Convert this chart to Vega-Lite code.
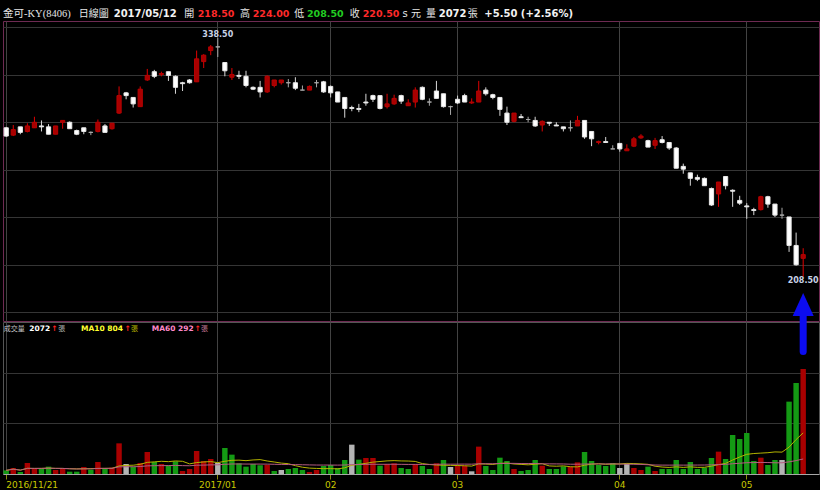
{
"$schema": "https://vega.github.io/schema/vega-lite/v6.json",
"background": "#000000",
"padding": {"left": 2, "right": 2, "top": 0, "bottom": 0},
"bounds": "flush",
"spacing": 1,
"config": {"view": {"stroke": null}},
"datasets": {
"ohlc": [
{"date":"2016-11-21","open":289.5,"high":290,"low":284.5,"close":285,"volume":72},
{"date":"2016-11-22","open":285.5,"high":291,"low":285,"close":288.5,"volume":118},
{"date":"2016-11-23","open":290,"high":290,"low":286,"close":287,"volume":39},
{"date":"2016-11-24","open":287.5,"high":292,"low":287,"close":290.5,"volume":217},
{"date":"2016-11-25","open":289.5,"high":295.5,"low":289.5,"close":292.5,"volume":105},
{"date":"2016-11-28","open":290.5,"high":293.5,"low":287.5,"close":290,"volume":112},
{"date":"2016-11-29","open":290,"high":291.5,"low":286,"close":286,"volume":145},
{"date":"2016-11-30","open":286,"high":290.5,"low":286,"close":290.5,"volume":79},
{"date":"2016-12-01","open":292.5,"high":293.5,"low":289,"close":293.5,"volume":105},
{"date":"2016-12-02","open":292.5,"high":293,"low":289,"close":289,"volume":46},
{"date":"2016-12-05","open":288,"high":288.5,"low":285.5,"close":286,"volume":46},
{"date":"2016-12-06","open":289.5,"high":289.5,"low":286,"close":287.5,"volume":138},
{"date":"2016-12-07","open":287,"high":287.5,"low":285.5,"close":287,"volume":86},
{"date":"2016-12-08","open":287.5,"high":294,"low":287,"close":292.5,"volume":237},
{"date":"2016-12-09","open":290.5,"high":291.5,"low":287,"close":287,"volume":118},
{"date":"2016-12-12","open":289,"high":292,"low":288.5,"close":292,"volume":125},
{"date":"2016-12-13","open":297.5,"high":312,"low":297,"close":307,"volume":605},
{"date":"2016-12-14","open":308.5,"high":309,"low":305,"close":307,"volume":197},
{"date":"2016-12-15","open":306,"high":306,"low":300.5,"close":302.5,"volume":138},
{"date":"2016-12-16","open":301,"high":312,"low":301,"close":310.5,"volume":217},
{"date":"2016-12-19","open":315.5,"high":321.5,"low":315,"close":318,"volume":434},
{"date":"2016-12-20","open":320,"high":321,"low":316.5,"close":317.5,"volume":237},
{"date":"2016-12-21","open":318.5,"high":320,"low":317.5,"close":319,"volume":197},
{"date":"2016-12-22","open":320,"high":320,"low":315,"close":318,"volume":171},
{"date":"2016-12-23","open":317.5,"high":318,"low":308,"close":311.5,"volume":250},
{"date":"2016-12-26","open":314,"high":314.5,"low":309.5,"close":313.5,"volume":59},
{"date":"2016-12-27","open":315.5,"high":316,"low":313.5,"close":314,"volume":99},
{"date":"2016-12-28","open":314.5,"high":331.5,"low":314.5,"close":327,"volume":454},
{"date":"2016-12-29","open":325.5,"high":329.5,"low":322,"close":329,"volume":257},
{"date":"2016-12-30","open":331.5,"high":334.5,"low":329,"close":333.5,"volume":296},
{"date":"2017-01-03","open":333.5,"high":338.5,"low":328,"close":333.5,"volume":217},
{"date":"2017-01-04","open":325,"high":325,"low":317.5,"close":320.5,"volume":513},
{"date":"2017-01-05","open":317,"high":322,"low":315.5,"close":318.5,"volume":382},
{"date":"2017-01-06","open":318,"high":320.5,"low":316,"close":317.5,"volume":211},
{"date":"2017-01-09","open":317.5,"high":320.5,"low":311.5,"close":312.5,"volume":145},
{"date":"2017-01-10","open":311.5,"high":312,"low":310,"close":310.5,"volume":197},
{"date":"2017-01-11","open":311.5,"high":315,"low":306,"close":309,"volume":171},
{"date":"2017-01-12","open":309,"high":318,"low":308.5,"close":317.5,"volume":178},
{"date":"2017-01-13","open":312.5,"high":315.5,"low":311.5,"close":315.5,"volume":59},
{"date":"2017-01-16","open":314,"high":315.5,"low":313,"close":315.5,"volume":79},
{"date":"2017-01-17","open":314,"high":316,"low":311.5,"close":314,"volume":99},
{"date":"2017-01-18","open":314,"high":317,"low":310,"close":311,"volume":118},
{"date":"2017-01-19","open":310,"high":312.5,"low":310,"close":310,"volume":79},
{"date":"2017-01-20","open":310,"high":312.5,"low":310,"close":312,"volume":39},
{"date":"2017-01-23","open":314,"high":315.5,"low":311.5,"close":314,"volume":79},
{"date":"2017-01-24","open":314.5,"high":315,"low":308.5,"close":309,"volume":158},
{"date":"2017-02-02","open":312,"high":312.5,"low":306,"close":308.5,"volume":178},
{"date":"2017-02-03","open":309,"high":309,"low":303.5,"close":303.5,"volume":118},
{"date":"2017-02-06","open":306,"high":306,"low":295,"close":300,"volume":276},
{"date":"2017-02-07","open":300.5,"high":301.5,"low":298.5,"close":300,"volume":579},
{"date":"2017-02-08","open":300,"high":302.5,"low":298,"close":299.5,"volume":283},
{"date":"2017-02-09","open":303.5,"high":308,"low":301.5,"close":303,"volume":316},
{"date":"2017-02-10","open":307,"high":307.5,"low":303.5,"close":305,"volume":316},
{"date":"2017-02-13","open":307,"high":307,"low":299.5,"close":300,"volume":164},
{"date":"2017-02-14","open":301,"high":308,"low":300,"close":302.5,"volume":197},
{"date":"2017-02-15","open":302.5,"high":307.5,"low":302,"close":305.5,"volume":211},
{"date":"2017-02-16","open":307,"high":307.5,"low":302.5,"close":304,"volume":118},
{"date":"2017-02-17","open":301.5,"high":305,"low":301.5,"close":303,"volume":99},
{"date":"2017-02-18","open":303.5,"high":311.5,"low":300.5,"close":310,"volume":197},
{"date":"2017-02-20","open":311.5,"high":312,"low":304.5,"close":305,"volume":158},
{"date":"2017-02-21","open":303.5,"high":305.5,"low":301.5,"close":303.5,"volume":99},
{"date":"2017-02-22","open":309.5,"high":315,"low":305.5,"close":305.5,"volume":211},
{"date":"2017-02-23","open":308,"high":308,"low":300.5,"close":301,"volume":276},
{"date":"2017-02-24","open":301,"high":301.5,"low":296.5,"close":301,"volume":138},
{"date":"2017-03-01","open":305,"high":307,"low":302.5,"close":303,"volume":164},
{"date":"2017-03-02","open":307,"high":308,"low":303.5,"close":303.5,"volume":164},
{"date":"2017-03-03","open":303,"high":305.5,"low":302.5,"close":303.5,"volume":53},
{"date":"2017-03-06","open":303.5,"high":315,"low":303.5,"close":309.5,"volume":540},
{"date":"2017-03-07","open":310,"high":311.5,"low":307,"close":308,"volume":158},
{"date":"2017-03-08","open":307.5,"high":308,"low":305,"close":306,"volume":79},
{"date":"2017-03-09","open":306,"high":306,"low":296,"close":299.5,"volume":322},
{"date":"2017-03-10","open":297.5,"high":301,"low":291,"close":292.5,"volume":257},
{"date":"2017-03-13","open":293,"high":297.5,"low":292.5,"close":297.5,"volume":99},
{"date":"2017-03-14","open":295.5,"high":297,"low":295,"close":295,"volume":59},
{"date":"2017-03-15","open":294,"high":295.5,"low":292.5,"close":294,"volume":79},
{"date":"2017-03-16","open":293.5,"high":295.5,"low":290,"close":290.5,"volume":276},
{"date":"2017-03-17","open":291,"high":293.5,"low":287.5,"close":293,"volume":164},
{"date":"2017-03-20","open":292.5,"high":292.5,"low":290.5,"close":292,"volume":99},
{"date":"2017-03-21","open":291,"high":292.5,"low":290.5,"close":290.5,"volume":99},
{"date":"2017-03-22","open":290,"high":290,"low":287.5,"close":289,"volume":151},
{"date":"2017-03-23","open":289.5,"high":293.5,"low":287.5,"close":289.5,"volume":145},
{"date":"2017-03-24","open":290.5,"high":296,"low":290.5,"close":293.5,"volume":230},
{"date":"2017-03-27","open":293.5,"high":293.5,"low":283.5,"close":284.5,"volume":434},
{"date":"2017-03-28","open":287.5,"high":287.5,"low":279.5,"close":283.5,"volume":257},
{"date":"2017-03-29","open":281.5,"high":282.5,"low":280.5,"close":282,"volume":178},
{"date":"2017-03-30","open":282,"high":284.5,"low":281.5,"close":281.5,"volume":158},
{"date":"2017-03-31","open":278,"high":280,"low":278,"close":278,"volume":217},
{"date":"2017-04-05","open":281,"high":281,"low":276.5,"close":278,"volume":118},
{"date":"2017-04-06","open":277,"high":280.5,"low":277,"close":278,"volume":204},
{"date":"2017-04-07","open":279.5,"high":284.5,"low":279,"close":283.5,"volume":118},
{"date":"2017-04-10","open":284,"high":286,"low":283.5,"close":285,"volume":79},
{"date":"2017-04-11","open":282.5,"high":283,"low":279,"close":279,"volume":145},
{"date":"2017-04-12","open":280,"high":284,"low":278,"close":282.5,"volume":59},
{"date":"2017-04-13","open":283,"high":285,"low":281,"close":281.5,"volume":99},
{"date":"2017-04-14","open":281.5,"high":281.5,"low":277.5,"close":278.5,"volume":99},
{"date":"2017-04-17","open":278.5,"high":279,"low":267.5,"close":267.5,"volume":276},
{"date":"2017-04-18","open":268.5,"high":270,"low":264.5,"close":267,"volume":99},
{"date":"2017-04-19","open":265,"high":265,"low":258,"close":262,"volume":237},
{"date":"2017-04-20","open":262.5,"high":264,"low":260.5,"close":261.5,"volume":99},
{"date":"2017-04-21","open":262,"high":262.5,"low":258,"close":258,"volume":125},
{"date":"2017-04-24","open":256.5,"high":257,"low":247,"close":247.5,"volume":316},
{"date":"2017-04-25","open":253.5,"high":260,"low":246.5,"close":260,"volume":441},
{"date":"2017-04-26","open":263,"high":263,"low":256,"close":258,"volume":296},
{"date":"2017-04-27","open":255.5,"high":256,"low":246.5,"close":255,"volume":770},
{"date":"2017-04-28","open":250,"high":252.5,"low":247.5,"close":248.5,"volume":691},
{"date":"2017-05-02","open":247,"high":248.5,"low":240,"close":246.5,"volume":809},
{"date":"2017-05-03","open":245,"high":246,"low":242,"close":244.5,"volume":257},
{"date":"2017-05-04","open":245,"high":252.5,"low":244.5,"close":252,"volume":322},
{"date":"2017-05-05","open":252,"high":252.5,"low":246,"close":248,"volume":178},
{"date":"2017-05-08","open":248,"high":248,"low":241,"close":242,"volume":276},
{"date":"2017-05-09","open":242,"high":246,"low":240,"close":242,"volume":276},
{"date":"2017-05-10","open":241,"high":241,"low":222,"close":225.5,"volume":1428},
{"date":"2017-05-11","open":225.5,"high":232.5,"low":214.5,"close":215,"volume":1796},
{"date":"2017-05-12","open":218.5,"high":224,"low":208.5,"close":220.5,"volume":2072}
],
"header": [
{"item":"name","text":"金可-KY(8406)"},
{"item":"kind","text":"日線圖"},
{"item":"date","text":"2017/05/12"},
{"item":"openLabel","text":"開"},
{"item":"open","text":"218.50"},
{"item":"highLabel","text":"高"},
{"item":"high","text":"224.00"},
{"item":"lowLabel","text":"低"},
{"item":"low","text":"208.50"},
{"item":"closeLabel","text":"收"},
{"item":"close","text":"220.50"},
{"item":"unit","text":"s 元"},
{"item":"volLabel","text":"量"},
{"item":"vol","text":"2072"},
{"item":"volUnit","text":"張"},
{"item":"change","text":"+5.50 (+2.56%)"}
],
"status": [
{"item":"title","text":"成交量"},
{"item":"vol","text":"2072"},
{"item":"arrow","text":"↑"},
{"item":"unit","text":"張"},
{"item":"ma10","text":"MA10 804"},
{"item":"ma60","text":"MA60 292"}
]
},
"vconcat": [
{
"width": 816, "height": 20,
"data": {"name": "header"},
"encoding": {
"y": {"datum": 0, "type": "quantitative", "scale": {"domain": [0, 1], "nice": false}, "axis": null},
"text": {"field": "text"}
},
"layer": [
{"transform": [{"filter": "datum.item == 'name'"}], "mark": {"type": "text", "align": "left", "baseline": "alphabetic", "dy": -2.7, "font": "Liberation Serif, Noto Sans CJK TC", "fontSize": 10.5, "color": "#e6e6e6"},
 "encoding": {"x": {"datum": 0, "type": "quantitative", "scale": {"domain": [0, 816], "nice": false, "zero": false}, "axis": null}}},
{"transform": [{"filter": "datum.item == 'kind'"}], "mark": {"type": "text", "align": "left", "baseline": "alphabetic", "dy": -2.7, "font": "Noto Sans CJK TC", "fontSize": 10, "color": "#e6e6e6"},
 "encoding": {"x": {"datum": 75.7}}},
{"transform": [{"filter": "datum.item == 'date'"}], "mark": {"type": "text", "align": "left", "baseline": "alphabetic", "dy": -2.7, "font": "DejaVu Sans", "fontSize": 10, "fontWeight": "bold", "color": "#f2f2f2"},
 "encoding": {"x": {"datum": 110.7}}},
{"transform": [{"filter": "datum.item == 'openLabel'"}], "mark": {"type": "text", "align": "left", "baseline": "alphabetic", "dy": -2.7, "font": "Noto Sans CJK TC", "fontSize": 10, "color": "#e6e6e6"},
 "encoding": {"x": {"datum": 181.3}}},
{"transform": [{"filter": "datum.item == 'open'"}], "mark": {"type": "text", "align": "left", "baseline": "alphabetic", "dy": -2.7, "font": "DejaVu Sans", "fontSize": 9.5, "fontWeight": "bold", "color": "#ff2a2a"},
 "encoding": {"x": {"datum": 194.7}}},
{"transform": [{"filter": "datum.item == 'highLabel'"}], "mark": {"type": "text", "align": "left", "baseline": "alphabetic", "dy": -2.7, "font": "Noto Sans CJK TC", "fontSize": 10, "color": "#e6e6e6"},
 "encoding": {"x": {"datum": 237}}},
{"transform": [{"filter": "datum.item == 'high'"}], "mark": {"type": "text", "align": "left", "baseline": "alphabetic", "dy": -2.7, "font": "DejaVu Sans", "fontSize": 9.5, "fontWeight": "bold", "color": "#ff2a2a"},
 "encoding": {"x": {"datum": 249.7}}},
{"transform": [{"filter": "datum.item == 'lowLabel'"}], "mark": {"type": "text", "align": "left", "baseline": "alphabetic", "dy": -2.7, "font": "Noto Sans CJK TC", "fontSize": 10, "color": "#e6e6e6"},
 "encoding": {"x": {"datum": 291.3}}},
{"transform": [{"filter": "datum.item == 'low'"}], "mark": {"type": "text", "align": "left", "baseline": "alphabetic", "dy": -2.7, "font": "DejaVu Sans", "fontSize": 9.5, "fontWeight": "bold", "color": "#22cc22"},
 "encoding": {"x": {"datum": 304}}},
{"transform": [{"filter": "datum.item == 'closeLabel'"}], "mark": {"type": "text", "align": "left", "baseline": "alphabetic", "dy": -2.7, "font": "Noto Sans CJK TC", "fontSize": 10, "color": "#e6e6e6"},
 "encoding": {"x": {"datum": 346.7}}},
{"transform": [{"filter": "datum.item == 'close'"}], "mark": {"type": "text", "align": "left", "baseline": "alphabetic", "dy": -2.7, "font": "DejaVu Sans", "fontSize": 9.5, "fontWeight": "bold", "color": "#ff2a2a"},
 "encoding": {"x": {"datum": 359.7}}},
{"transform": [{"filter": "datum.item == 'unit'"}], "mark": {"type": "text", "align": "left", "baseline": "alphabetic", "dy": -2.7, "font": "DejaVu Sans, Noto Sans CJK TC", "fontSize": 10, "color": "#e6e6e6"},
 "encoding": {"x": {"datum": 399.5}}},
{"transform": [{"filter": "datum.item == 'volLabel'"}], "mark": {"type": "text", "align": "left", "baseline": "alphabetic", "dy": -2.7, "font": "Noto Sans CJK TC", "fontSize": 10, "color": "#e6e6e6"},
 "encoding": {"x": {"datum": 423}}},
{"transform": [{"filter": "datum.item == 'vol'"}], "mark": {"type": "text", "align": "left", "baseline": "alphabetic", "dy": -2.7, "font": "DejaVu Sans", "fontSize": 10, "fontWeight": "bold", "color": "#f2f2f2"},
 "encoding": {"x": {"datum": 435.7}}},
{"transform": [{"filter": "datum.item == 'volUnit'"}], "mark": {"type": "text", "align": "left", "baseline": "alphabetic", "dy": -2.7, "font": "Noto Sans CJK TC", "fontSize": 10, "color": "#e6e6e6"},
 "encoding": {"x": {"datum": 464.7}}},
{"transform": [{"filter": "datum.item == 'change'"}], "mark": {"type": "text", "align": "left", "baseline": "alphabetic", "dy": -2.7, "font": "DejaVu Sans", "fontSize": 10, "fontWeight": "bold", "color": "#f2f2f2"},
 "encoding": {"x": {"datum": 481.3}}}
]
},
{
"width": 816, "height": 300,
"view": {"stroke": "#6e2a52"},
"data": {"name": "ohlc"},
"layer": [
{
"mark": {"type": "rule", "strokeWidth": 1},
"encoding": {
"x": {"field": "date", "type": "ordinal", "scale": {"type": "band", "paddingInner": 0.3, "paddingOuter": 1.12, "align": 0.053},
"axis": {"values": ["2016-11-21","2017-01-03","2017-02-02","2017-03-01","2017-04-05","2017-05-02"], "bandPosition": 0.5, "grid": true, "gridColor": "#424242", "labels": false, "ticks": false, "domain": false, "title": null}},
"y": {"field": "low", "type": "quantitative", "scale": {"domain": [184.41, 347.58], "zero": false, "nice": false},
"axis": {"values": [344.16,337.70,331.24,324.78,318.32,311.87,305.41,298.95,292.49,286.03,279.57,273.11,266.65,260.19,253.73,247.28,240.82,234.36,227.90,221.44,214.98,208.52,202.06,195.60,189.14], "grid": true, "gridColor": "#353535", "labels": false, "ticks": false, "domain": false, "title": null}},
"y2": {"field": "high"},
"color": {"condition": [{"test": "datum.close > datum.open", "value": "#e00000"}, {"test": "datum.close == datum.open", "value": "#a8a8a8"}], "value": "#d8d8d8"}
}
},
{
"mark": {"type": "bar", "width": {"band": 0.85}, "strokeWidth": 1},
"encoding": {
"x": {"field": "date", "type": "ordinal"},
"y": {"field": "open", "type": "quantitative"},
"y2": {"field": "close"},
"fill": {"condition": [{"test": "datum.close > datum.open", "value": "#a80000"}, {"test": "datum.close == datum.open", "value": "#a8a8a8"}], "value": "#ffffff"},
"stroke": {"condition": [{"test": "datum.close > datum.open", "value": "#b80000"}, {"test": "datum.close == datum.open", "value": "#a8a8a8"}], "value": "#e6e6e6"}
}
},
{
"transform": [{"joinaggregate": [{"op": "max", "field": "high", "as": "hmax"}]}, {"filter": "datum.high == datum.hmax"}],
"mark": {"type": "text", "align": "center", "baseline": "alphabetic", "dy": -1, "font": "DejaVu Sans", "fontSize": 8, "fontWeight": "bold", "color": "#c8d2e6"},
"encoding": {
"x": {"field": "date", "type": "ordinal"},
"y": {"field": "high", "type": "quantitative"},
"text": {"field": "high", "type": "quantitative", "format": ".2f"}
}
},
{
"transform": [{"joinaggregate": [{"op": "min", "field": "low", "as": "lmin"}]}, {"filter": "datum.low == datum.lmin"}],
"mark": {"type": "text", "align": "center", "baseline": "alphabetic", "dy": 6.6, "font": "DejaVu Sans", "fontSize": 8, "fontWeight": "bold", "color": "#c8d2e6"},
"encoding": {
"x": {"field": "date", "type": "ordinal"},
"y": {"field": "low", "type": "quantitative"},
"text": {"field": "low", "type": "quantitative", "format": ".2f"}
}
}
]
},
{
"width": 816, "height": 152,
"view": {"stroke": "#555555"},
"resolve": {"scale": {"x": "independent", "y": "independent"}},
"layer": [
{
"data": {"name": "ohlc"},
"layer": [
{
"transform": [{"window": [{"op": "lag", "field": "close", "as": "prev"}], "sort": [{"field": "date", "order": "ascending"}]}],
"mark": {"type": "bar", "width": {"band": 1.1}},
"encoding": {
"x": {"field": "date", "type": "ordinal", "scale": {"type": "band", "paddingInner": 0.3, "paddingOuter": 1.12, "align": 0.053},
"axis": {"values": ["2016-11-21","2017-01-03","2017-02-02","2017-03-01","2017-04-05","2017-05-02"], "bandPosition": 0.5, "grid": true, "gridColor": "#424242", "domainColor": "#a8a8a8", "ticks": true, "tickColor": "#8c8c10", "tickSize": 5, "labelColor": "#c8c800", "labelFont": "DejaVu Sans", "labelFontSize": 9, "labelPadding": 1, "labelAngle": 0, "labelOverlap": false, "labelBound": false,
"labelExpr": "datum.value == '2016-11-21' ? '2016/11/21' : (datum.value == '2017-01-03' ? '2017/01' : slice(datum.value, 5, 7))",
"labelAlign": {"condition": {"test": "datum.value == '2016-11-21'", "value": "left"}, "value": "center"},
"title": null}},
"y": {"field": "volume", "type": "quantitative", "scale": {"domain": [0, 3000], "nice": false},
"axis": {"values": [1000, 2000], "grid": true, "gridColor": "#353535", "labels": false, "ticks": false, "domain": false, "title": null}},
"color": {"condition": [{"test": "datum.prev != null && datum.close > datum.prev", "value": "#a80000"}, {"test": "datum.prev != null && datum.close == datum.prev", "value": "#b4b4b4"}], "value": "#149a14"}
}
},
{
"transform": [{"window": [{"op": "mean", "field": "volume", "as": "ma10"}], "frame": [-9, 0], "sort": [{"field": "date", "order": "ascending"}]}],
"mark": {"type": "line", "strokeWidth": 1, "color": "#b4b400"},
"encoding": {
"x": {"field": "date", "type": "ordinal"},
"y": {"field": "ma10", "type": "quantitative"}
}
},
{
"transform": [{"window": [{"op": "mean", "field": "volume", "as": "ma60"}], "frame": [-59, 0], "sort": [{"field": "date", "order": "ascending"}]}],
"mark": {"type": "line", "strokeWidth": 1, "color": "#b45c80"},
"encoding": {
"x": {"field": "date", "type": "ordinal"},
"y": {"field": "ma60", "type": "quantitative"}
}
},
{
"transform": [{"joinaggregate": [{"op": "min", "field": "low", "as": "lmin"}]}, {"filter": "datum.low == datum.lmin"}],
"mark": {"type": "rule", "strokeWidth": 7, "strokeCap": "round", "color": "#0c0cf0"},
"encoding": {
"x": {"field": "date", "type": "ordinal"},
"y": {"datum": 3118},
"y2": {"datum": 2420}
}
},
{
"transform": [{"joinaggregate": [{"op": "min", "field": "low", "as": "lmin"}]}, {"filter": "datum.low == datum.lmin"}],
"mark": {"type": "point", "shape": "M0,-1L0.913,1L-0.913,1Z", "size": 529, "filled": true, "color": "#0c0cf0", "opacity": 1, "strokeWidth": 0},
"encoding": {
"x": {"field": "date", "type": "ordinal"},
"y": {"datum": 3345}
}
}
]
},
{
"data": {"name": "status"},
"encoding": {
"y": {"datum": 1, "type": "quantitative", "scale": {"domain": [0, 1], "nice": false}, "axis": null},
"text": {"field": "text"}
},
"layer": [
{"transform": [{"filter": "datum.item == 'title'"}], "mark": {"type": "text", "align": "left", "baseline": "alphabetic", "dy": 8.7, "font": "Noto Sans CJK TC", "fontSize": 7, "color": "#c4c4c4"},
 "encoding": {"x": {"datum": 0.7, "type": "quantitative", "scale": {"domain": [0, 816], "nice": false, "zero": false}, "axis": null}}},
{"transform": [{"filter": "datum.item == 'vol'"}], "mark": {"type": "text", "align": "left", "baseline": "alphabetic", "dy": 8.7, "font": "DejaVu Sans", "fontSize": 7.5, "fontWeight": "bold", "color": "#ffffff"},
 "encoding": {"x": {"datum": 26.3}}},
{"transform": [{"filter": "datum.item == 'arrow'"}], "mark": {"type": "text", "align": "left", "baseline": "alphabetic", "dy": 8.7, "font": "DejaVu Sans", "fontSize": 7.5, "fontWeight": "bold", "color": "#ff2020"},
 "encoding": {"x": {"datum": 48.3}}},
{"transform": [{"filter": "datum.item == 'unit'"}], "mark": {"type": "text", "align": "left", "baseline": "alphabetic", "dy": 8.7, "font": "Noto Sans CJK TC", "fontSize": 7, "color": "#b4b4b4"},
 "encoding": {"x": {"datum": 55.3}}},
{"transform": [{"filter": "datum.item == 'ma10'"}], "mark": {"type": "text", "align": "left", "baseline": "alphabetic", "dy": 8.7, "font": "DejaVu Sans", "fontSize": 7.5, "fontWeight": "bold", "color": "#ffff30"},
 "encoding": {"x": {"datum": 78}}},
{"transform": [{"filter": "datum.item == 'arrow'"}], "mark": {"type": "text", "align": "left", "baseline": "alphabetic", "dy": 8.7, "font": "DejaVu Sans", "fontSize": 7.5, "fontWeight": "bold", "color": "#ff2020"},
 "encoding": {"x": {"datum": 121.6}}},
{"transform": [{"filter": "datum.item == 'unit'"}], "mark": {"type": "text", "align": "left", "baseline": "alphabetic", "dy": 8.7, "font": "Noto Sans CJK TC", "fontSize": 7, "color": "#b4b400"},
 "encoding": {"x": {"datum": 128}}},
{"transform": [{"filter": "datum.item == 'ma60'"}], "mark": {"type": "text", "align": "left", "baseline": "alphabetic", "dy": 8.7, "font": "DejaVu Sans", "fontSize": 7.5, "fontWeight": "bold", "color": "#ff88c8"},
 "encoding": {"x": {"datum": 148.7}}},
{"transform": [{"filter": "datum.item == 'arrow'"}], "mark": {"type": "text", "align": "left", "baseline": "alphabetic", "dy": 8.7, "font": "DejaVu Sans", "fontSize": 7.5, "fontWeight": "bold", "color": "#ff2020"},
 "encoding": {"x": {"datum": 191.6}}},
{"transform": [{"filter": "datum.item == 'unit'"}], "mark": {"type": "text", "align": "left", "baseline": "alphabetic", "dy": 8.7, "font": "Noto Sans CJK TC", "fontSize": 7, "color": "#c07898"},
 "encoding": {"x": {"datum": 198}}}
]
}
]
}
]
}
